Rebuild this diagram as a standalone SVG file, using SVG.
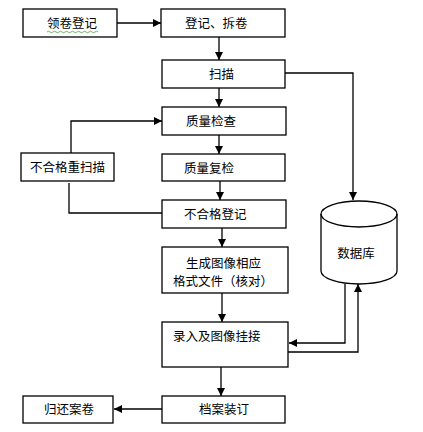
<svg xmlns="http://www.w3.org/2000/svg" width="423" height="432" viewBox="0 0 423 432">
<style>
.box{fill:#fff;stroke:#000;stroke-width:1.3}
.ln{fill:none;stroke:#000;stroke-width:1.3}
text{font-family:"Noto Sans CJK SC","Noto Sans",sans-serif;font-size:12.5px;fill:#000}
</style>
<defs>
<marker id="ah" viewBox="0 0 8 8" refX="8" refY="4" markerWidth="8" markerHeight="8" markerUnits="userSpaceOnUse" orient="auto">
<path d="M0,0 L8,4 L0,8 Z" fill="#000"/>
</marker>
</defs>
<rect width="423" height="432" fill="#fff"/>
<g id="connectors">
<path class="ln" d="M117,23 H161" marker-end="url(#ah)"/>
<path class="ln" d="M219,37 V60" marker-end="url(#ah)"/>
<path class="ln" d="M219,88 V107" marker-end="url(#ah)"/>
<path class="ln" d="M285,73 H353 V200" marker-end="url(#ah)"/>
<path class="ln" d="M71,153 V121 H162" marker-end="url(#ah)"/>
<path class="ln" d="M219,135 V154" marker-end="url(#ah)"/>
<path class="ln" d="M220,181 V200" marker-end="url(#ah)"/>
<path class="ln" d="M162,213 H69 V183"/>
<path class="ln" d="M222,228 V247" marker-end="url(#ah)"/>
<path class="ln" d="M222,293 V322" marker-end="url(#ah)"/>
<path class="ln" d="M345,284 V343 H289" marker-end="url(#ah)"/>
<path class="ln" d="M288,352 H358 V284" marker-end="url(#ah)"/>
<path class="ln" d="M221,367 V396" marker-end="url(#ah)"/>
<path class="ln" d="M162,409 H114" marker-end="url(#ah)"/>
</g>
<g id="n1"><rect class="box" x="23" y="9" width="94" height="28"/><text x="47" y="27.5">领卷登记</text><path d="M47,32 Q48.5,30.5 50,32 T53,32 T56,32 T59,32 T62,32 T65,32 T68,32 T71,32 T74,32 T77,32 T80,32 T83,32 T86,32 T89,32 T92,32 T95,32 T98,32" fill="none" stroke="#4a9a4a" stroke-width="0.8"/></g>
<g id="n2"><rect class="box" x="161" y="9" width="124" height="28"/><text x="185" y="27.5">登记、拆卷</text></g>
<g id="n3"><rect class="box" x="162" y="60" width="123" height="28"/><text x="209" y="78.5">扫描</text></g>
<g id="n4"><rect class="box" x="162" y="107" width="124" height="28"/><text x="186" y="126">质量检查</text></g>
<g id="n5"><rect class="box" x="21" y="153" width="93" height="28"/><text x="30" y="172">不合格重扫描</text></g>
<g id="n6"><rect class="box" x="162" y="154" width="123" height="27"/><text x="184" y="172.5">质量复检</text></g>
<g id="n7"><rect class="box" x="162" y="200" width="124" height="28"/><text x="184" y="218.5">不合格登记</text></g>
<g id="n8"><rect class="box" x="162" y="247" width="126" height="46"/><text x="186" y="267.5">生成图像相应</text><text x="173" y="285.5">格式文件（核对）</text></g>
<g id="n9"><rect class="box" x="162" y="322" width="126" height="45"/><text x="173" y="340.5">录入及图像挂接</text></g>
<g id="n10"><rect class="box" x="162" y="396" width="123" height="27"/><text x="199" y="414">档案装订</text></g>
<g id="n11"><rect class="box" x="23" y="396" width="90" height="27"/><text x="44" y="414">归还案卷</text></g>
<g id="db">
<path class="box" d="M321,214 V271 A38,13 0 0 0 397,271 V214 A38,13 0 0 0 321,214 Z"/>
<path class="ln" d="M321,214 A38,13 0 0 0 397,214"/>
<text x="356" y="257.5" text-anchor="middle">数据库</text>
</g>
</svg>
